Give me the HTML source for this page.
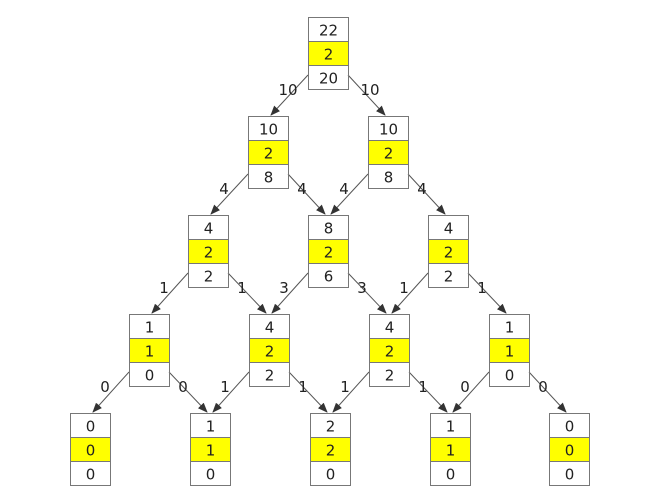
<!DOCTYPE html>
<html><head><meta charset="utf-8"><style>
html,body{margin:0;padding:0;background:#fff;width:648px;height:498px;overflow:hidden}
text{font-family:"DejaVu Sans","Liberation Sans",sans-serif;font-size:15px;fill:#222}
</style></head><body>
<svg id="s" width="648" height="498" xmlns="http://www.w3.org/2000/svg">
<defs><marker id="a" markerWidth="10" markerHeight="8" refX="9" refY="4" orient="auto" markerUnits="userSpaceOnUse"><path d="M0,0 L10,4 L0,8 z" fill="#333"/></marker></defs>
</svg>
<script>
var tops=[17,116,215,314,413];
var lefts=[[308],[248,368],[188,308,428],[129,249,369,489],[70,190,310,430,549]];
var vals=[[[22,2,20]],[[10,2,8],[10,2,8]],[[4,2,2],[8,2,6],[4,2,2]],[[1,1,0],[4,2,2],[4,2,2],[1,1,0]],[[0,0,0],[1,1,0],[2,2,0],[1,1,0],[0,0,0]]];
var W=40,H=72,ch=24;
var s='';
var labs=[[["10","10"]],[["4","4"],["4","4"]],[["1","1"],["3","3"],["1","1"]],[["0","0"],["1","1"],["1","1"],["0","0"]]];
for(var r=0;r<4;r++){
  for(var i=0;i<lefts[r].length;i++){
    var x=lefts[r][i],y=tops[r];
    var cl=lefts[r+1][i]+W/2, cr=lefts[r+1][i+1]+W/2, ty=tops[r+1];
    s+='<line x1="'+x+'" y1="'+(y+58)+'" x2="'+(cl+3)+'" y2="'+(ty-1)+'" stroke="#555" stroke-width="1" marker-end="url(#a)"/>';
    s+='<line x1="'+(x+W)+'" y1="'+(y+58)+'" x2="'+(cr-3)+'" y2="'+(ty-1)+'" stroke="#555" stroke-width="1" marker-end="url(#a)"/>';
    var l=labs[r][i];
    var lx=x-(l[0].length>1?20:24), rx=x+W+(l[1].length>1?22:14);
    s+='<text x="'+lx+'" y="'+(y+78)+'" text-anchor="middle">'+l[0]+'</text>';
    s+='<text x="'+rx+'" y="'+(y+78)+'" text-anchor="middle">'+l[1]+'</text>';
  }
}
for(var r=0;r<5;r++){
  for(var i=0;i<lefts[r].length;i++){
    var x=lefts[r][i]+0.5,y=tops[r]+0.5,v=vals[r][i];
    s+='<rect x="'+x+'" y="'+(y+ch)+'" width="'+W+'" height="'+ch+'" fill="#ffff00"/>';
    s+='<rect x="'+x+'" y="'+y+'" width="'+W+'" height="'+H+'" fill="none" stroke="#777"/>';
    s+='<line x1="'+x+'" y1="'+(y+ch)+'" x2="'+(x+W)+'" y2="'+(y+ch)+'" stroke="#777"/>';
    s+='<line x1="'+x+'" y1="'+(y+2*ch)+'" x2="'+(x+W)+'" y2="'+(y+2*ch)+'" stroke="#777"/>';
    for(var k=0;k<3;k++) s+='<text x="'+(x+W/2)+'" y="'+(y+k*ch+18)+'" text-anchor="middle">'+v[k]+'</text>';
  }
}
document.getElementById('s').insertAdjacentHTML('beforeend',s);
</script>
</body></html>
